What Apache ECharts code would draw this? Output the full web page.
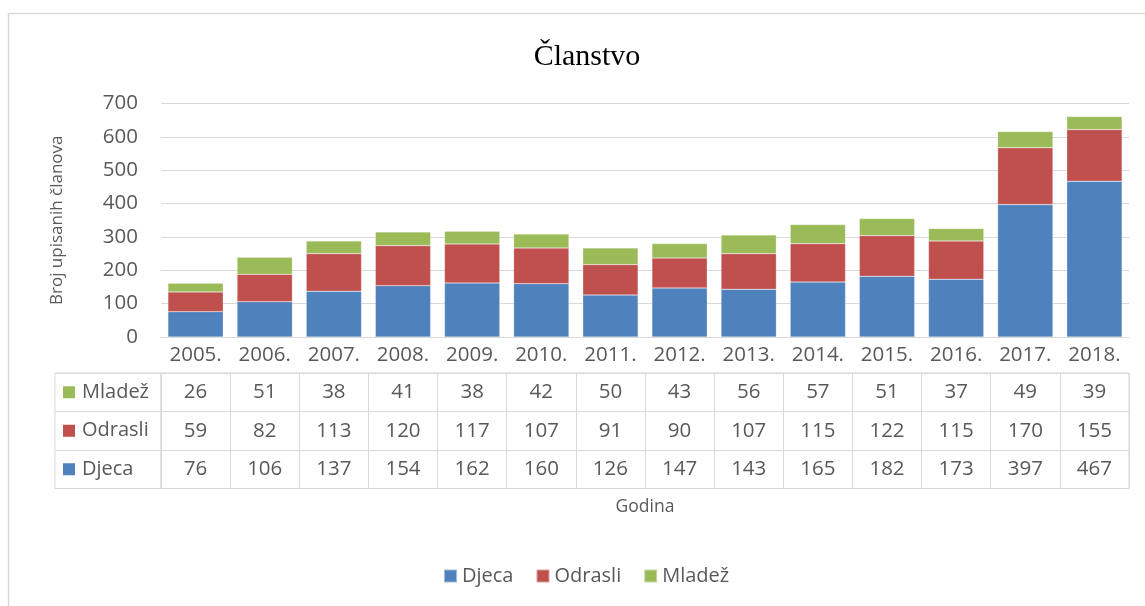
<!DOCTYPE html>
<html>
<head>
<meta charset="utf-8">
<script src="https://cdn.jsdelivr.net/npm/echarts@6/dist/echarts.min.js"></script>
<style>
  html, body { margin: 0; padding: 0; background: #fff; }
  #chart { width: 1145px; height: 606px; }
</style>
</head>
<body>
<div id="chart"></div>
<script>
// data
const godine = ['2005.', '2006.', '2007.', '2008.', '2009.', '2010.', '2011.', '2012.', '2013.', '2014.', '2015.', '2016.', '2017.', '2018.'];
const djeca = [76, 106, 137, 154, 162, 160, 126, 147, 143, 165, 182, 173, 397, 467];
const odrasli = [59, 82, 113, 120, 117, 107, 91, 90, 107, 115, 122, 115, 170, 155];
const mladez = [26, 51, 38, 41, 38, 42, 50, 43, 56, 57, 51, 37, 49, 39];
const yTicks = { min: 0, max: 700, interval: 100 };

const boje = ['#4f81bd', '#c0504d', '#9bbb59'];
const nazivi = ['Djeca', 'Odrasli', 'Mladež'];
const redovi = [djeca, odrasli, mladez];

const sivo = '#595959';
const linija = '#d9d9d9';
const font = 'Open Sans';
const brojFont = 20.5;

// table layout (rows: Mladež top, Odrasli, Djeca bottom)
const tabTop = 373, rowH = 38.5;

let chart = echarts.init(document.getElementById('chart'));

// one x axis per table row, all on the bottom edge, labels pulled up into the row
let rowAxes = redovi.map(function (vals, i) {
  return {
    type: 'category',
    gridIndex: 1,
    position: 'bottom',
    data: godine,
    axisLine: { show: false },
    axisTick: { show: false },
    splitLine: { show: i === 0, interval: 0, lineStyle: { color: linija } },
    axisLabel: {
      interval: 0,
      margin: -(rowH * i + rowH / 2),
      verticalAlign: 'middle',
      color: sivo, fontFamily: font, fontSize: brojFont,
      formatter: function (v, idx) { return String(vals[idx]); }
    },
    name: i === 0 ? 'Godina' : '',
    nameLocation: 'middle',
    nameGap: 10,
    nameTextStyle: { color: sivo, fontFamily: font, fontSize: 17.5, verticalAlign: 'top' }
  };
});

let rich = { t: { color: sivo, fontFamily: font, fontSize: 20, padding: [0, 0, 0, 7] } };
boje.forEach(function (c, i) { rich['c' + i] = { width: 12, height: 12, backgroundColor: c }; });

let option = {
  animation: false,
  backgroundColor: '#fff',
  title: {
    text: 'Članstvo',
    left: 582, textAlign: 'center', top: 37,
    textStyle: { fontFamily: 'Liberation Serif', fontSize: 30, fontWeight: 'normal', color: '#000' }
  },
  legend: {
    data: nazivi,
    left: 438, top: 561,
    icon: 'rect', itemWidth: 13, itemHeight: 13, itemGap: 22,
    textStyle: { color: sivo, fontFamily: font, fontSize: 20 }
  },
  graphic: [{
    type: 'rect',
    shape: { x: 8.5, y: 13.5, width: 1200, height: 700 },
    style: { fill: 'none', stroke: linija, lineWidth: 1.5 },
    silent: true
  }],
  grid: [
    { left: 161, right: 16, top: 103.5, height: 233.5 },
    { left: 161, right: 16, top: tabTop, height: rowH * 3, show: true, borderColor: linija, borderWidth: 1 },
    { left: 55, width: 106, top: tabTop, height: rowH * 3, show: true, borderColor: linija, borderWidth: 1 }
  ],
  xAxis: [
    {
      type: 'category',
      gridIndex: 0,
      position: 'bottom',
      data: godine,
      axisLine: { lineStyle: { color: linija } },
      axisTick: { interval: 0, length: 36, lineStyle: { color: linija } },
      axisLabel: { interval: 0, margin: 8, color: sivo, fontFamily: font, fontSize: brojFont }
    }
  ].concat(rowAxes).concat([
    { type: 'value', gridIndex: 2, show: false }
  ]),
  yAxis: [
    {
      type: 'value',
      gridIndex: 0,
      min: yTicks.min, max: yTicks.max, interval: yTicks.interval,
      axisLine: { show: false },
      axisTick: { show: false },
      splitLine: { lineStyle: { color: linija, width: 1 } },
      axisLabel: { margin: 23, color: sivo, fontFamily: font, fontSize: brojFont },
      name: 'Broj upisanih članova',
      nameLocation: 'middle',
      nameRotate: 90,
      nameGap: 95,
      nameTextStyle: { color: sivo, fontFamily: font, fontSize: 17 }
    },
    {
      type: 'category',
      gridIndex: 1,
      data: nazivi,
      axisLine: { show: false },
      axisTick: { show: false },
      axisLabel: { show: false },
      splitLine: { show: true, interval: 0, lineStyle: { color: linija } }
    },
    {
      type: 'category',
      gridIndex: 2,
      data: nazivi,
      axisLine: { show: false },
      axisTick: { show: false },
      splitLine: { show: true, interval: 0, lineStyle: { color: linija } },
      axisLabel: {
        inside: true, margin: 8, interval: 0, align: 'left',
        formatter: function (v, idx) { return '{c' + idx + '|}{t|' + v + '}'; },
        rich: rich
      }
    }
  ],
  series: redovi.map(function (vals, i) {
    return {
      name: nazivi[i],
      type: 'bar',
      stack: 'ukupno',
      xAxisIndex: 0,
      yAxisIndex: 0,
      barCategoryGap: '20%',
      itemStyle: { color: boje[i], borderColor: 'rgba(255,255,255,0.45)', borderWidth: 0.5 },
      data: vals
    };
  })
};

chart.setOption(option);
</script>
</body>
</html>
